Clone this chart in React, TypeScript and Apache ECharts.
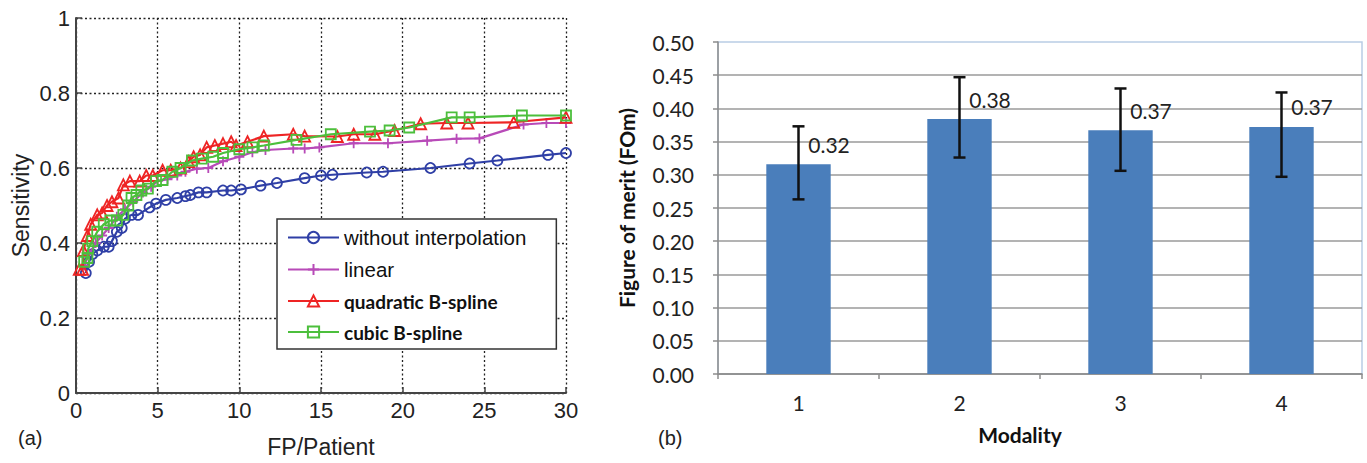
import React, { useEffect, useRef } from "react";
import * as echarts from "echarts";

// ---- Panel (a): sensitivity vs FP/Patient ----
const seriesNames = ["without interpolation", "linear", "quadratic B-spline", "cubic B-spline"];
const seriesColors = ["#2f3fa6", "#b84ab8", "#ee2424", "#4cbf3c"];

const withoutInterp: number[][] = [
  [0.6, 0.32], [0.8, 0.35], [1.0, 0.37], [1.3, 0.38], [1.7, 0.39], [2.0, 0.39], [2.2, 0.405],
  [2.5, 0.43], [2.8, 0.44], [3.0, 0.465], [3.4, 0.475], [3.8, 0.475], [4.5, 0.495], [4.9, 0.505],
  [5.5, 0.515], [6.2, 0.52], [6.7, 0.525], [7.0, 0.528], [7.5, 0.535], [8.0, 0.535], [9.0, 0.54],
  [9.5, 0.54], [10.1, 0.543], [11.3, 0.553], [12.3, 0.56], [14.0, 0.573], [15.0, 0.58], [15.7, 0.582],
  [17.8, 0.588], [18.8, 0.59], [21.7, 0.6], [24.1, 0.612], [25.8, 0.62], [28.9, 0.635], [30, 0.64],
];
const linearInterp: number[][] = [
  [0.5, 0.34], [0.8, 0.37], [1.2, 0.4], [1.6, 0.42], [2.0, 0.44], [2.5, 0.47], [3.0, 0.49],
  [3.5, 0.51], [4.1, 0.535], [4.6, 0.55], [5.0, 0.565], [5.6, 0.57], [6.2, 0.58], [6.7, 0.59],
  [7.4, 0.598], [8.1, 0.6], [9.0, 0.618], [10.0, 0.63], [10.8, 0.642], [11.6, 0.648], [13.3, 0.652],
  [14.0, 0.652], [14.9, 0.655], [17.0, 0.666], [19.1, 0.666], [21.5, 0.673], [23.3, 0.678],
  [24.7, 0.679], [27.4, 0.716], [28.8, 0.72], [30, 0.72],
];
const quadraticSpline: number[][] = [
  [0.2, 0.33], [0.4, 0.33], [0.45, 0.38], [0.7, 0.42], [0.9, 0.45], [1.3, 0.475], [1.6, 0.48],
  [1.9, 0.5], [2.2, 0.51], [2.6, 0.52], [2.9, 0.555], [3.3, 0.565], [3.9, 0.565], [4.3, 0.58],
  [4.7, 0.58], [5.3, 0.594], [5.8, 0.594], [6.4, 0.6], [6.9, 0.617], [7.2, 0.63], [7.6, 0.635],
  [8.0, 0.655], [8.5, 0.66], [9.0, 0.665], [9.5, 0.67], [9.8, 0.66], [10.5, 0.67], [11.5, 0.685],
  [13.3, 0.69], [14.0, 0.685], [16.0, 0.684], [17.0, 0.69], [18.3, 0.69], [19.5, 0.7], [21.1, 0.718],
  [22.7, 0.72], [24.0, 0.72], [26.8, 0.722], [30, 0.735],
];
const cubicSpline: number[][] = [
  [0.5, 0.35], [0.7, 0.36], [0.75, 0.385], [1.0, 0.405], [1.3, 0.43], [1.7, 0.45], [2.1, 0.46],
  [2.5, 0.46], [2.9, 0.475], [3.2, 0.5], [3.4, 0.52], [3.7, 0.528], [4.0, 0.54], [4.4, 0.545],
  [4.9, 0.565], [5.3, 0.568], [5.9, 0.59], [6.4, 0.6], [7.1, 0.62], [7.7, 0.625], [8.4, 0.63],
  [9.0, 0.64], [10.0, 0.65], [10.8, 0.655], [11.5, 0.66], [13.5, 0.675], [15.6, 0.69], [18.0, 0.697],
  [19.2, 0.7], [20.4, 0.708], [23.0, 0.735], [24.1, 0.735], [27.3, 0.74], [30, 0.74],
];
const seriesData = [withoutInterp, linearInterp, quadraticSpline, cubicSpline];
const seriesSymbols = ["circle", "path://M5,0L5,10M0,5L10,5", "triangle", "rect"];

// ---- Panel (b): figure of merit per modality ----
const modalities = ["1", "2", "3", "4"];
const fomValues = [0.316, 0.384, 0.367, 0.372];
const fomLow = [0.263, 0.326, 0.306, 0.297];
const fomHigh = [0.373, 0.447, 0.43, 0.424];

const ARIAL = "Liberation Sans";
const CAL = "Lato";

export default function App() {
  const ref = useRef<HTMLDivElement>(null);
  useEffect(() => {
    document.body.style.margin = "0";
    if (!ref.current) return;
    const chart = echarts.init(ref.current, null, { renderer: "svg" });
    const boldSet = new Set(["quadratic B-spline", "cubic B-spline"]);
    const dotted = { color: "#222", type: [2, 2.5] as any, width: 1.3 };
    const option: any = {
      animation: false,
      backgroundColor: "#fff",
      grid: [
        { left: 76, top: 18, width: 490, height: 378 },
        { left: 718, top: 42, width: 644, height: 332, show: true, borderColor: "#b9cde5", borderWidth: 1.5 },
      ],
      xAxis: [
        {
          gridIndex: 0, type: "value", min: 0, max: 30, interval: 5,
          name: "FP/Patient", nameLocation: "middle", nameGap: 42,
          nameTextStyle: { fontFamily: ARIAL, fontSize: 23, color: "#222" },
          axisLine: { show: true, lineStyle: { color: "#444", width: 2 } },
          axisTick: { show: true, inside: true, length: 6, lineStyle: { color: "#444", width: 1.5 } },
          axisLabel: { fontFamily: ARIAL, fontSize: 22, color: "#222", margin: 6 },
          splitLine: { show: true, lineStyle: dotted },
        },
        {
          gridIndex: 1, type: "category", data: modalities,
          name: "Modality", nameLocation: "middle", nameGap: 50,
          nameTextStyle: { fontFamily: CAL, fontWeight: "bold", fontSize: 21, color: "#111", padding: [0, 40, 0, 0] },
          axisLine: { show: true, lineStyle: { color: "#8c8c8c", width: 1.5 } },
          axisTick: { show: true, length: 5, lineStyle: { color: "#8c8c8c", width: 1.5 } },
          axisLabel: { fontFamily: CAL, fontSize: 21, color: "#222", margin: 18 },
          splitLine: { show: false },
        },
      ],
      yAxis: [
        {
          gridIndex: 0, type: "value", min: 0, max: 1, interval: 0.2,
          name: "Sensitivity", nameLocation: "middle", nameGap: 44,
          nameTextStyle: { fontFamily: ARIAL, fontSize: 23, color: "#222" },
          axisLine: { show: true, lineStyle: { color: "#444", width: 2 } },
          axisTick: { show: true, inside: true, length: 6, lineStyle: { color: "#444", width: 1.5 } },
          axisLabel: { fontFamily: ARIAL, fontSize: 22, color: "#222", margin: 6 },
          splitLine: { show: true, lineStyle: dotted },
        },
        {
          gridIndex: 1, type: "value", min: 0, max: 0.5, interval: 0.05,
          name: "Figure of merit (FOm)", nameLocation: "middle", nameGap: 81,
          nameTextStyle: { fontFamily: CAL, fontWeight: "bold", fontSize: 21, color: "#111" },
          axisLine: { show: true, lineStyle: { color: "#8c8c8c", width: 1.5 } },
          axisTick: { show: true, length: 5, lineStyle: { color: "#8c8c8c", width: 1.5 } },
          axisLabel: { fontFamily: CAL, fontSize: 21, color: "#222", margin: 24, formatter: (v: number) => v.toFixed(2) },
          splitLine: { show: true, showMaxLine: false, lineStyle: { color: "#9a9a9a", width: 1.5 } },
        },
      ],
      legend: {
        orient: "vertical",
        left: 277, top: 219,
        padding: [8, 30, 7, 10],
        itemWidth: 51, itemHeight: 14, itemGap: 11,
        borderColor: "#333", borderWidth: 1.5, backgroundColor: "#fff",
        data: seriesNames,
        formatter: (n: string) => (boldSet.has(n) ? `{b|${n}}` : `{n|${n}}`),
        textStyle: {
          lineHeight: 20,
          rich: {
            n: { fontFamily: ARIAL, fontSize: 20.5, color: "#111", lineHeight: 20 },
            b: { fontFamily: CAL, fontWeight: "bold", fontSize: 19, color: "#111", lineHeight: 20 },
          },
        },
      },
      graphic: [
        { type: "text", left: 18, top: 428, style: { text: "(a)", font: `20px '${ARIAL}'`, fill: "#222" } },
        { type: "text", left: 658, top: 428, style: { text: "(b)", font: `20px '${ARIAL}'`, fill: "#222" } },
      ],
      series: [
        ...seriesNames.map((name, i) => ({
          name, type: "line", xAxisIndex: 0, yAxisIndex: 0,
          data: seriesData[i],
          symbol: seriesSymbols[i],
          symbolSize: i === 2 ? 11 : 10,
          lineStyle: { color: seriesColors[i], width: 2.2 },
          itemStyle: { color: "rgba(255,255,255,0)", borderColor: seriesColors[i], borderWidth: 1.8 },
          z: 3 + i,
        })),
        {
          name: "FOm", type: "bar", xAxisIndex: 1, yAxisIndex: 1,
          data: fomValues, barWidth: "40%",
          itemStyle: { color: "#4a7ebb" },
          label: {
            show: true, position: [42, -20], align: "left", verticalAlign: "middle",
            fontFamily: CAL, fontSize: 21, color: "#222",
            formatter: (p: any) => Number(p.value).toFixed(2),
          },
        },
        {
          name: "error", type: "custom", xAxisIndex: 1, yAxisIndex: 1,
          data: modalities.map((_, i) => [i, fomLow[i], fomHigh[i]]),
          z: 10,
          renderItem: (params: any, api: any) => {
            const x = api.value(0);
            const top = api.coord([x, api.value(2)]);
            const bot = api.coord([x, api.value(1)]);
            const hw = 6;
            const st = { stroke: "#111", lineWidth: 2.5 };
            return {
              type: "group",
              children: [
                { type: "line", shape: { x1: top[0], y1: top[1], x2: bot[0], y2: bot[1] }, style: st },
                { type: "line", shape: { x1: top[0] - hw, y1: top[1], x2: top[0] + hw, y2: top[1] }, style: st },
                { type: "line", shape: { x1: bot[0] - hw, y1: bot[1], x2: bot[0] + hw, y2: bot[1] }, style: st },
              ],
            };
          },
        },
      ],
    };
    chart.setOption(option);
    return () => chart.dispose();
  }, []);
  return <div ref={ref} style={{ width: 1367, height: 463 }} />;
}
